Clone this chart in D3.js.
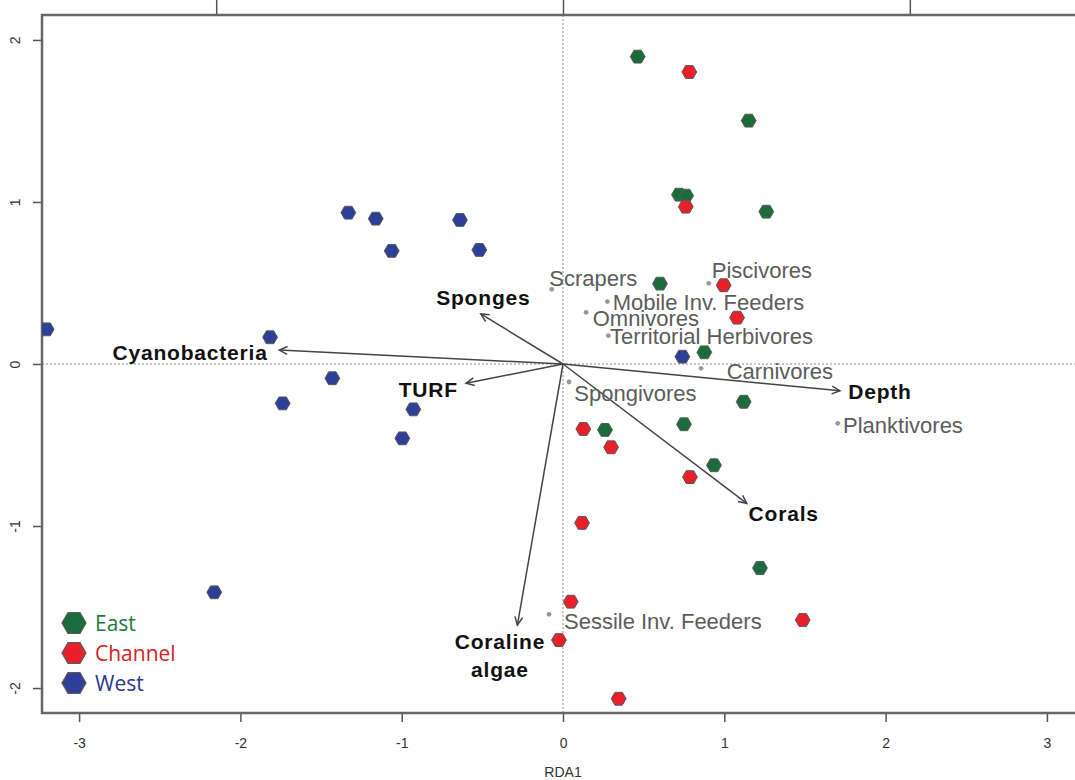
<!DOCTYPE html>
<html><head><meta charset="utf-8">
<script src="https://cdn.jsdelivr.net/npm/d3@7"></script>
<style>body{margin:0;background:#fff}</style>
</head><body><svg id="c" width="1075" height="780"></svg>
<script>
// ---- data ----
const groups = ["East", "Channel", "West"];
const eastX = [0.463, 1.151, 0.719, 0.763, 1.260, 0.601, 0.876, 1.120, 0.750, 0.260, 0.936, 1.221];
const eastY = [1.897, 1.502, 1.045, 1.039, 0.940, 0.496, 0.072, -0.233, -0.372, -0.407, -0.625, -1.259];
const channelX = [0.783, 0.761, 0.996, 1.079, 0.126, 0.298, 0.787, 0.118, 0.048, -0.025, 1.486, 0.345];
const channelY = [1.802, 0.971, 0.486, 0.286, -0.401, -0.514, -0.698, -0.981, -1.467, -1.704, -1.580, -2.066];
const westX = [-3.201, -1.816, -1.331, -1.161, -1.062, -0.639, -0.519, -1.430, -1.738, -0.928, -0.996, -2.162, 0.740];
const westY = [0.214, 0.165, 0.934, 0.897, 0.698, 0.889, 0.704, -0.088, -0.243, -0.280, -0.459, -1.409, 0.045];

const speciesNames = ["Scrapers", "Piscivores", "Mobile Inv. Feeders", "Omnivores", "Territorial Herbivores",
  "Carnivores", "Spongivores", "Planktivores", "Sessile Inv. Feeders"];
const speciesX = [-0.070, 0.903, 0.275, 0.143, 0.281, 0.856, 0.037, 1.703, -0.087];
const speciesY = [0.461, 0.498, 0.385, 0.319, 0.175, -0.027, -0.111, -0.366, -1.545];
const speciesLabelX = [-0.085, 0.922, 0.308, 0.184, 0.291, 1.015, 0.070, 1.736, 0.006];
const speciesLabelY = [0.529, 0.580, 0.378, 0.282, 0.173, -0.048, -0.179, -0.377, -1.591];

const envNames = ["Cyanobacteria", "Sponges", "TURF", "Depth", "Corals", "Coraline|algae"];
const envX = [-1.759, -0.510, -0.601, 1.717, 1.139, -0.283];
const envY = [0.086, 0.309, -0.119, -0.165, -0.860, -1.611];
const envLabelX = [-2.312, -0.494, -0.835, 1.965, 1.368, -0.391];
const envLabelY = [0.068, 0.407, -0.160, -0.173, -0.922, -1.714];

const xTicks = [-3, -2, -1, 0, 1, 2, 3];
const yTicks = [-2, -1, 0, 1, 2];
const topTicks = [-1, 0, 1];
const xTitle = "RDA1";

// ---- layout ----
const svg = d3.select("#c");
const L = 42, R = 1080, T = 15, B = 713;
const x = d3.scaleLinear().domain([-3.23, 3.205]).range([L, R]);
const y = d3.scaleLinear().domain([-2.154, 2.154]).range([B, T]);
const ratio = 2.15;
const xTop = d3.scaleLinear().domain(x.domain().map(d => d / ratio)).range([L, R]);

const colors = {East: "#1c6b3a", Channel: "#e8202a", West: "#2e3f98"};
const textColors = {East: "#1f7a3f", Channel: "#d42027", West: "#2b3990"};
const fmt = d => String(d); // ASCII hyphen minus like the original

svg.append("defs").append("clipPath").attr("id", "clip")
  .append("rect").attr("x", L).attr("y", T).attr("width", R - L).attr("height", B - T);

// zero lines
svg.append("line").attr("x1", x(0)).attr("x2", x(0)).attr("y1", T).attr("y2", B)
  .attr("stroke", "#8a8a8a").attr("stroke-width", 1).attr("stroke-dasharray", "2,2");
svg.append("line").attr("x1", L).attr("x2", R).attr("y1", y(0)).attr("y2", y(0))
  .attr("stroke", "#8a8a8a").attr("stroke-width", 1).attr("stroke-dasharray", "2,2");

// axes
const axStyle = g => {
  g.select(".domain").remove();
  g.selectAll(".tick line").attr("stroke", "#555").attr("stroke-width", 1.5);
  g.selectAll(".tick text").attr("fill", "#333").style("font-family", "'Liberation Sans Narrow','Liberation Sans',Arial,sans-serif").style("font-size", "14px");
};
svg.append("g").attr("transform", `translate(0,${B})`)
  .call(d3.axisBottom(x).tickValues(xTicks).tickSize(9).tickPadding(16).tickFormat(fmt))
  .call(axStyle);
svg.append("g").attr("transform", `translate(${L},0)`)
  .call(d3.axisLeft(y).tickValues(yTicks).tickSize(9).tickPadding(0).tickFormat(fmt))
  .call(axStyle)
  .call(g => g.selectAll(".tick text").attr("x", null).attr("dy", null)
    .attr("text-anchor", "middle").attr("transform", "translate(-27,0) rotate(-90)").attr("dy", "0.35em"));
svg.append("g").attr("transform", `translate(0,${T})`)
  .call(d3.axisTop(xTop).tickValues(topTicks).tickSize(16).tickFormat(""))
  .call(axStyle);

// frame
svg.append("rect").attr("x", L).attr("y", T).attr("width", R - L).attr("height", B - T)
  .attr("fill", "none").attr("stroke", "#666").attr("stroke-width", 2.5);

svg.append("text").attr("x", x(0)).attr("y", 777).attr("text-anchor", "middle")
  .attr("fill", "#333").style("font-family", "'Liberation Sans Narrow','Liberation Sans',Arial,sans-serif")
  .style("font-size", "14px").text(xTitle);

// hexagon path
const hex = r => {
  const pts = d3.range(6).map(i => [r * Math.cos(i * Math.PI / 3), r * Math.sin(i * Math.PI / 3)]);
  return "M" + pts.map(p => p.join(",")).join("L") + "Z";
};

// arrows
const ag = svg.append("g");
envNames.forEach((n, i) => {
  const x0 = x(0), y0 = y(0), x1 = x(envX[i]), y1 = y(envY[i]);
  ag.append("line").attr("x1", x0).attr("y1", y0).attr("x2", x1).attr("y2", y1)
    .attr("stroke", "#444").attr("stroke-width", 1.5);
  const a = Math.atan2(y1 - y0, x1 - x0), len = 9, sp = 0.45;
  ag.append("path")
    .attr("d", `M${x1 - len * Math.cos(a - sp)},${y1 - len * Math.sin(a - sp)}L${x1},${y1}L${x1 - len * Math.cos(a + sp)},${y1 - len * Math.sin(a + sp)}`)
    .attr("fill", "none").attr("stroke", "#444").attr("stroke-width", 1.5);
  const lines = n.split("|");
  const t = ag.append("text").attr("x", x(envLabelX[i])).attr("y", y(envLabelY[i]))
    .attr("text-anchor", "middle").attr("fill", "#111")
    .style("font-family", "'Liberation Sans',Arial,sans-serif").style("font-weight", "bold")
    .style("font-size", "21px").style("letter-spacing", "0.8px");
  lines.forEach((s, k) => t.append("tspan").attr("x", x(envLabelX[i])).attr("dy", k === 0 ? "0.35em" : "28px").text(s));
});

// species
const sg = svg.append("g");
speciesNames.forEach((n, i) => {
  sg.append("circle").attr("cx", x(speciesX[i])).attr("cy", y(speciesY[i])).attr("r", 2.4).attr("fill", "#999");
  sg.append("text").attr("x", x(speciesLabelX[i])).attr("y", y(speciesLabelY[i])).attr("dy", "0.35em")
    .attr("fill", "#5c5c5c").style("font-family", "'Liberation Sans',Arial,sans-serif")
    .style("font-size", "22px").text(n);
});

// site points
const pg = svg.append("g").attr("clip-path", "url(#clip)");
const series = [["East", eastX, eastY], ["Channel", channelX, channelY], ["West", westX, westY]];
series.forEach(([g, xs, ys]) => {
  xs.forEach((v, i) => {
    pg.append("path").attr("d", hex(7.4)).attr("transform", `translate(${x(v)},${y(ys[i])})`)
      .attr("fill", colors[g]).attr("stroke", "#5a5a5a").attr("stroke-width", 1);
  });
});

// legend
const lg = svg.append("g");
groups.forEach((g, i) => {
  const cy = 623 + i * 30;
  lg.append("path").attr("d", hex(12)).attr("transform", `translate(74,${cy})`)
    .attr("fill", colors[g]).attr("stroke", "#5a5a5a").attr("stroke-width", 1.2);
  lg.append("text").attr("x", 95).attr("y", cy).attr("dy", "0.36em").attr("fill", textColors[g])
    .style("font-family", "'Open Sans',sans-serif").style("font-size", "21px").text(g);
});
</script></body></html>
